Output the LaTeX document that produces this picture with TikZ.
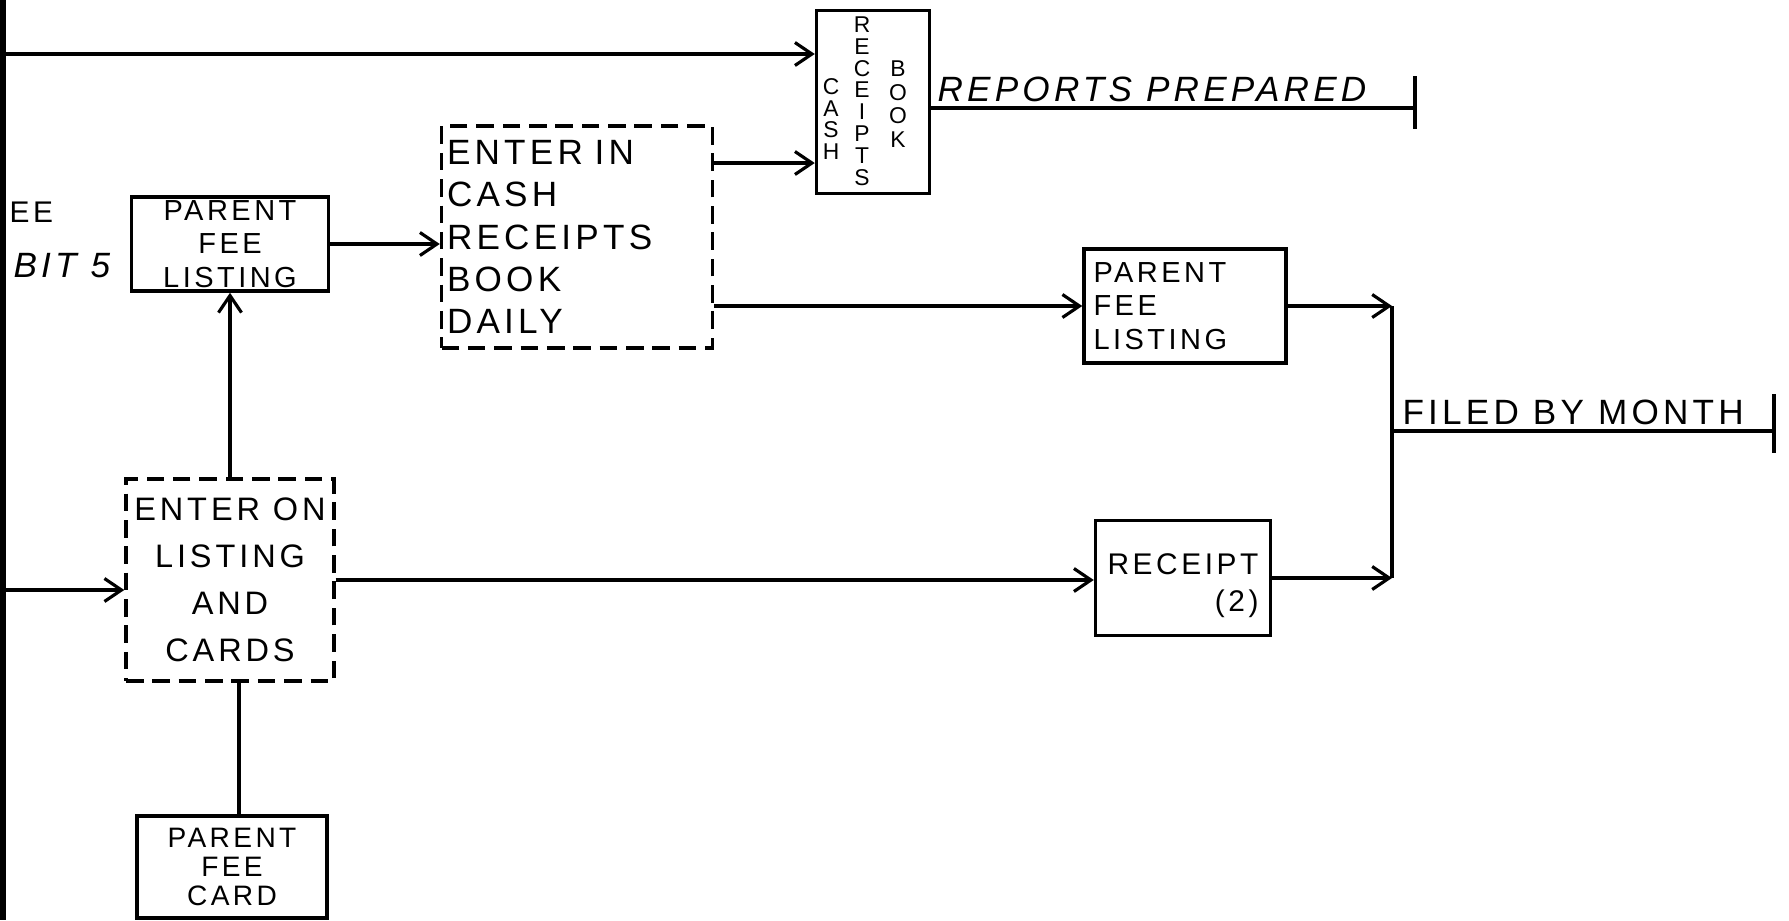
\documentclass[tikz,border=0pt]{standalone}
\usepackage{fontspec}
\setmainfont{Liberation Sans}
\newfontfamily\handfont[LetterSpace=12]{Liberation Sans}
\usetikzlibrary{arrows.meta}

\begin{document}
\begin{tikzpicture}[
  x=0.02cm, y=-0.02cm,
  line width=1.8pt,
  box/.style={draw, line width=2pt, inner sep=2pt, font=\handfont\fontsize{16.5}{19}\selectfont},
  dashbox/.style={box, dash pattern=on 10pt off 5pt},
  vcol/.style={align=center, inner sep=0pt, font=\handfont\fontsize{13}{12.4}\selectfont},
  arr/.style={-{Straight Barb[length=0.34cm, width=0.46cm, line width=1.8pt]}},
  lbl/.style={font=\handfont\fontsize{20}{24}\selectfont, inner sep=0pt},
  tick/.style={line width=2pt}
]
\useasboundingbox (0,0) rectangle (1789,920);

% page edge on the left
\draw[line width=3.4pt] (3,0) -- (3,920);
\node[anchor=base west, inner sep=0pt, font=\handfont\fontsize{17}{20}\selectfont] (feecut) at (8,222) {EE};
\node[anchor=base west, inner sep=0pt, font=\handfont\itshape\fontsize{20}{24}\selectfont] (exhcut) at (12,277) {BIT 5};

% boxes
\node[box, minimum width=2.26cm, minimum height=3.66cm] (cashbook) at (873,102) {};
\node[vcol] (cashcol) at (831,119) {C\\A\\S\\H};
\node[vcol] (rcptcol) at (862,101) {R\\E\\C\\E\\I\\P\\T\\S};
\node[vcol, font=\handfont\fontsize{13}{13.5}\selectfont] (bookcol) at (898,104) {B\\O\\O\\K};

\node[box, minimum width=3.94cm, minimum height=1.88cm, align=center] (listL) at (230,244) {PARENT\\FEE\\LISTING};
\node[dashbox, text width=5.2cm, minimum height=4.44cm, align=left, inner sep=0.11cm,
  font=\handfont\fontsize{20}{24}\selectfont] (entcash) at (577,237) {ENTER IN\\CASH\\RECEIPTS\\BOOK\\DAILY};
\node[box, text width=3.66cm, minimum height=2.28cm, align=left, inner sep=0.19cm] (listR) at (1185,306) {PARENT\\FEE\\LISTING};
\node[box, minimum width=3.5cm, minimum height=2.3cm, align=right, font=\handfont\fontsize{17}{21}\selectfont] (receipt) at (1183,578) {\mbox{}\\RECEIPT\\(2)};
\node[dashbox, minimum width=4.16cm, minimum height=4.04cm, align=center, inner sep=1pt,
  font=\handfont\fontsize{18.5}{26.7}\selectfont] (enteron) at (230,580) {ENTER ON\\LISTING\\AND\\CARDS};
\node[box, minimum width=3.8cm, minimum height=2.04cm, align=center, font=\handfont\fontsize{16}{16.5}\selectfont] (card) at (232,867) {PARENT\\FEE\\CARD};

% end labels
\node[lbl, anchor=base west, font=\handfont\itshape\fontsize{20}{24}\selectfont] (reports) at (936,101) {REPORTS PREPARED};
\node[lbl, anchor=base west] (filed) at (1401,424) {FILED BY MONTH};

\coordinate (intop) at (3,54);
\coordinate (inlow) at (3,590);
\coordinate (junc) at (1392,431);
\coordinate (repend) at (1415,108);
\coordinate (filend) at (1774,431);

% connectors
\draw[arr] (intop) -- (intop -| cashbook.west);
\draw[arr] (listL.east) -- (listL.east -| entcash.west);
\draw[arr] ([yshift=1.48cm]entcash.east) -- ([yshift=1.48cm]entcash.east -| cashbook.west);
\draw[arr] (entcash.east |- listR.west) -- (listR.west);
\draw[arr] (listR.east) -- (listR.east -| junc);
\draw[arr] (receipt.east) -- (receipt.east -| junc);
\draw (junc |- listR.east) -- (junc |- receipt.east);
\draw (junc) -- (filend);
\draw[tick] (filend) ++(0,-37) -- ++(0,59);
\draw (repend -| cashbook.east) -- (repend);
\draw[tick] (repend) ++(0,-32) -- ++(0,53);
\draw[arr] (inlow) -- (inlow -| enteron.west);
\draw[arr] (enteron.east) -- (enteron.east -| receipt.west);
\draw[arr] (enteron.north) -- (listL.south);
\draw ([xshift=0.18cm]enteron.south) -- ([xshift=0.18cm]enteron.south |- card.north);
\end{tikzpicture}
\end{document}
